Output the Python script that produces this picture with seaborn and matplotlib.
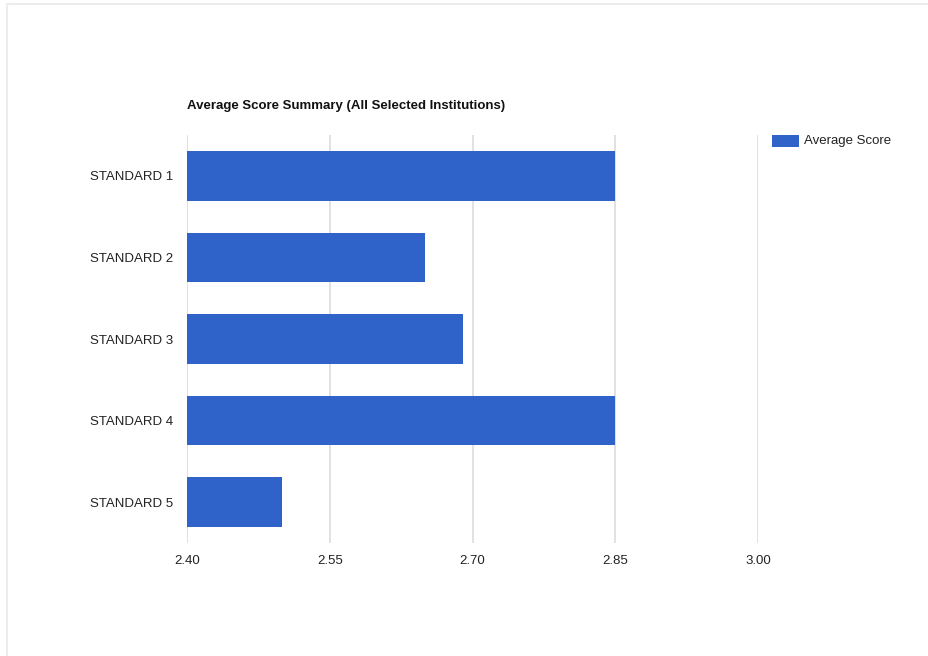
import matplotlib
matplotlib.use("Agg")
import matplotlib.pyplot as plt
import pandas as pd
import seaborn as sns
from matplotlib.lines import Line2D
from matplotlib.patches import Rectangle

standards = ["STANDARD 1", "STANDARD 2", "STANDARD 3", "STANDARD 4", "STANDARD 5"]
avg_scores = [2.85, 2.65, 2.69, 2.85, 2.50]
x_ticks = [2.40, 2.55, 2.70, 2.85, 3.00]
x_tick_labels = ["2.40", "2.55", "2.70", "2.85", "3.00"]
series_name = "Average Score"
title = "Average Score Summary (All Selected Institutions)"

sns.set_theme(style="white")
plt.rcParams["font.family"] = ["Liberation Sans", "DejaVu Sans"]

BAR = "#2f63c9"
GRID = "#dcdcdc"
TEXT = "#222222"

df = pd.DataFrame({"standard": standards, "score": avg_scores})

fig = plt.figure(figsize=(9.29, 6.56), dpi=100)
fig.patch.set_facecolor("white")
ax = fig.add_axes([187 / 929, 1 - 543 / 656, (758 - 187) / 929, (543 - 135) / 656])

# bars start at zero; the axis window begins at 2.40
sns.barplot(data=df, x="score", y="standard", orient="h", color=BAR,
            saturation=1, width=0.61, ax=ax, zorder=3, linewidth=0)
ax.set_xlim(x_ticks[0], x_ticks[-1])
ax.set_ylim(4.5, -0.5)

ax.set_xticks(x_ticks)
ax.set_xticklabels(x_tick_labels)
ax.set_axisbelow(True)
ax.xaxis.grid(True, color=GRID, linewidth=1.2, zorder=0)
ax.yaxis.grid(False)
for s in ax.spines.values():
    s.set_visible(False)
ax.set_xlabel("")
ax.set_ylabel("")
ax.tick_params(axis="x", length=0, pad=9, labelsize=9.5, labelcolor=TEXT)
ax.tick_params(axis="y", length=0, pad=10, labelsize=9.5, labelcolor=TEXT)

fig.text(187 / 929, 1 - 106 / 656, title, fontsize=9.5, fontweight="bold",
         color="#111111", ha="left", va="center")

# legend swatch and label
fig.patches.append(Rectangle((772 / 929, 1 - 147 / 656), 27 / 929, 12 / 656,
                             transform=fig.transFigure, facecolor=BAR,
                             edgecolor="none"))
fig.text(804 / 929, 1 - 141 / 656, series_name, fontsize=9.5, color=TEXT,
         ha="left", va="center")

# thin frame around the card
fig.lines.append(Line2D([7 / 929, 1], [1 - 4 / 656, 1 - 4 / 656],
                        transform=fig.transFigure, color="#ececec", linewidth=1.5))
fig.lines.append(Line2D([7 / 929, 7 / 929], [0, 1 - 4 / 656],
                        transform=fig.transFigure, color="#ececec", linewidth=1.5))

fig.savefig("out.png", dpi=100, facecolor="white")
